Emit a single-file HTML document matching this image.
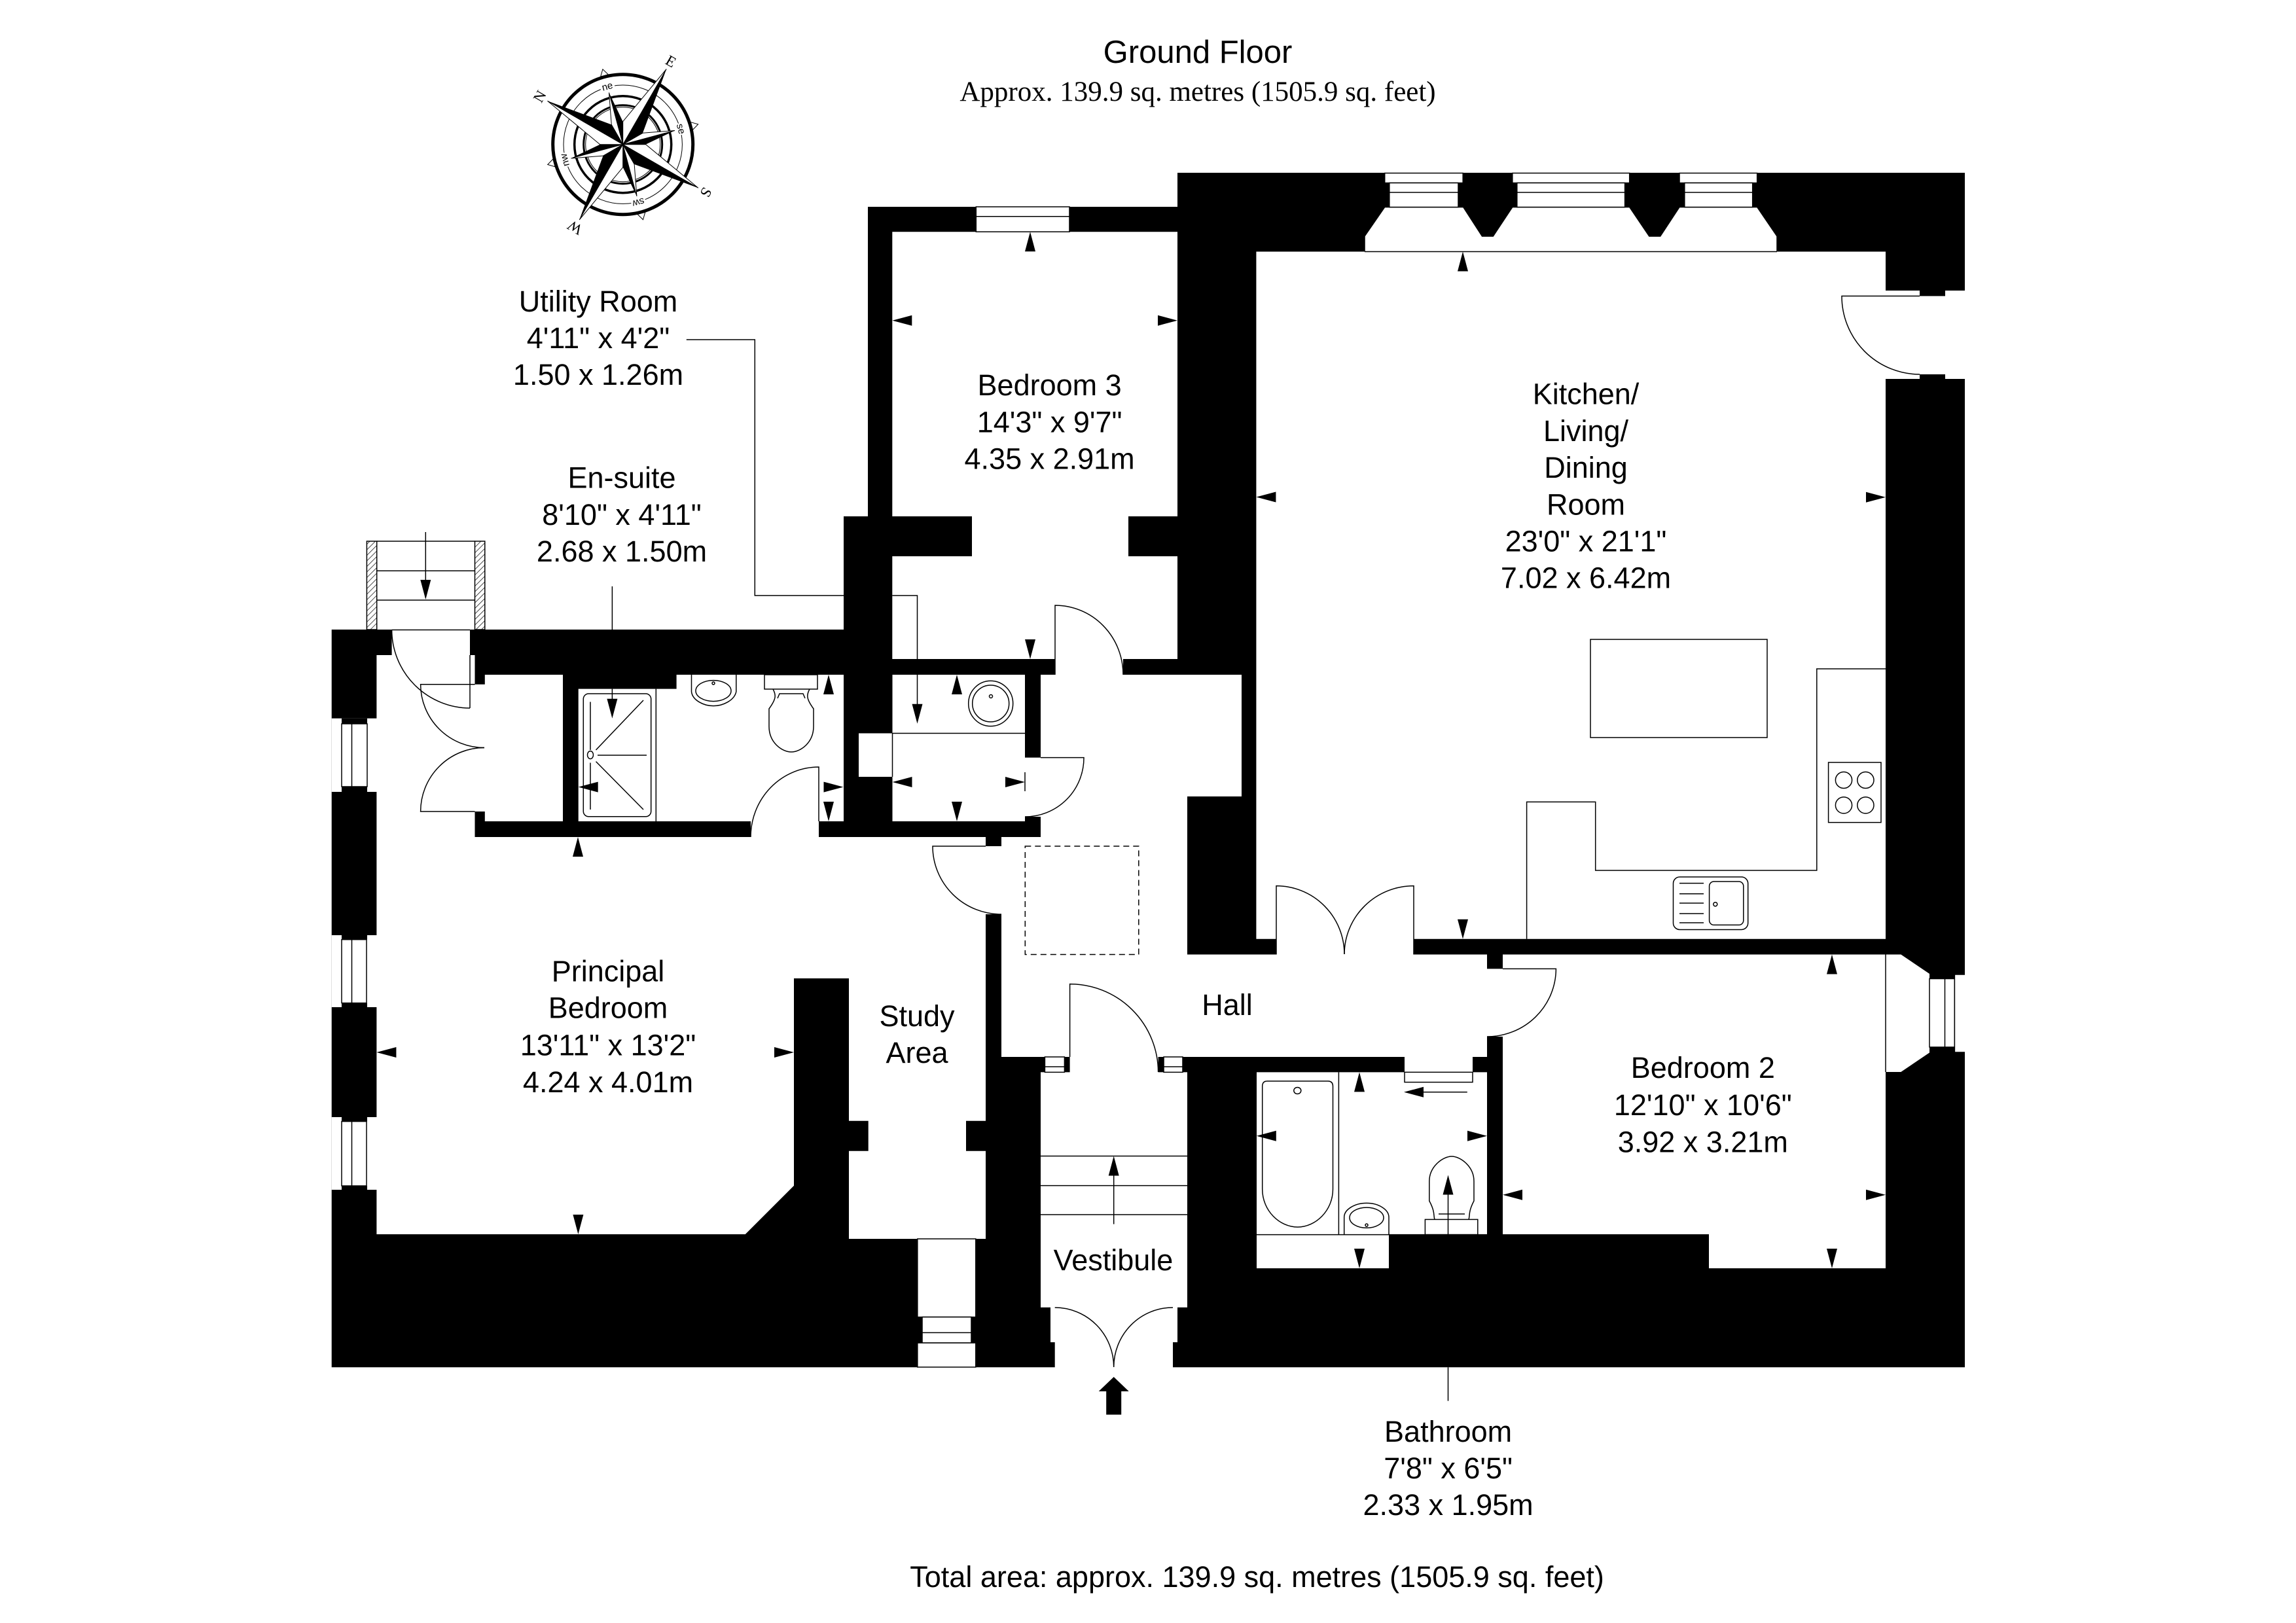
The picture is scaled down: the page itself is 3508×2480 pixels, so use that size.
<!DOCTYPE html>
<html><head><meta charset="utf-8"><title>Ground Floor</title>
<style>
html,body{margin:0;padding:0;background:#fff}
svg{display:block}
text{font-family:"Liberation Sans",sans-serif;font-size:45px;fill:#000;text-anchor:middle}
.s{font-family:"Liberation Serif",serif}
.l{fill:none;stroke:#000;stroke-width:1.5}
.w{fill:#fff}
.ws{fill:#fff;stroke:#000;stroke-width:1.5}
</style></head><body>
<svg xmlns="http://www.w3.org/2000/svg" width="3508" height="2480" viewBox="0 0 3508 2480">
<defs>
<polygon id="a" points="0,0 -8,30 8,30" fill="#000"/>
<pattern id="h" width="6" height="6" patternUnits="userSpaceOnUse" patternTransform="rotate(45)"><rect width="6" height="6" fill="#fff"/><line x1="0" y1="0" x2="0" y2="6" stroke="#000" stroke-width="1.4"/></pattern>
<g id="lp"><polygon points="0,-133 -17.5,-30.3 0,0" fill="#fff" stroke="#000" stroke-width="1"/><polygon points="0,-133 17.5,-30.3 0,0" fill="#000"/></g>
<g id="sp"><polygon points="0,-82 -9,-33.8 0,0" fill="#fff" stroke="#000" stroke-width="1"/><polygon points="0,-82 9,-33.8 0,0" fill="#000"/></g>
</defs>
<rect width="3508" height="2480" fill="#fff"/>

<!-- compass -->
<g transform="translate(951.7 220.7)">
<g fill="none" stroke="#000">
<circle r="107" stroke-width="5"/><circle r="90.7" stroke-width="1"/><circle r="74" stroke-width="3.5"/><circle r="60" stroke-width="3"/><circle r="57" stroke-width="1"/>
</g>
<g fill="#fff" stroke="#000" stroke-width="1">
<polygon transform="rotate(-15)" points="-6,-109 0,-119 6,-109"/><polygon transform="rotate(75)" points="-6,-109 0,-119 6,-109"/><polygon transform="rotate(165)" points="-6,-109 0,-119 6,-109"/><polygon transform="rotate(255)" points="-6,-109 0,-119 6,-109"/>
</g>
<use href="#sp" transform="rotate(-15)"/><use href="#sp" transform="rotate(75)"/><use href="#sp" transform="rotate(165)"/><use href="#sp" transform="rotate(255)"/>
<use href="#lp" transform="rotate(30)"/><use href="#lp" transform="rotate(120)"/><use href="#lp" transform="rotate(210)"/><use href="#lp" transform="rotate(300)"/>
<g class="lab">
<text class="s" style="font-size:23px" transform="rotate(-60)" y="-139">N</text>
<text class="s" style="font-size:23px" transform="rotate(30)" y="-139">E</text>
<text class="s" style="font-size:23px" transform="rotate(120)" y="-139">S</text>
<text class="s" style="font-size:23px" transform="rotate(210)" y="-139">W</text>
<rect transform="rotate(-15)" x="-11" y="-99" width="22" height="14" fill="#fff"/><text style="font-size:15px" transform="rotate(-15)" y="-87">ne</text>
<rect transform="rotate(75)" x="-9" y="-99" width="18" height="14" fill="#fff"/><text style="font-size:15px" transform="rotate(75)" y="-87">se</text>
<rect transform="rotate(165)" x="-11" y="-99" width="22" height="14" fill="#fff"/><text style="font-size:15px" transform="rotate(165)" y="-87">sw</text>
<rect transform="rotate(255)" x="-11" y="-99" width="22" height="14" fill="#fff"/><text style="font-size:15px" transform="rotate(255)" y="-87">nw</text>
</g>
</g>

<!-- silhouette -->
<polygon fill="#000" points="506.7,962 1289,962 1289,789 1326,789 1326,316 1799,316 1799,264 3002,264 3002,2089.3 506.7,2089.3"/>

<!-- main connected interior -->
<polygon class="w" points="1363.3,354.2 1799,354.2 1799,789 1724,789 1724,850 1799,850 1799,1007 1716,1007 1716,1031 1897,1031 1897,1217 1814,1217 1814,1458.5 1950,1458.5 1950,1434.8 2160,1434.8 2160,1458.5 2272,1458.5 2272,1480.4 2296,1480.4 2296,1584 2272,1584 2272,1615 1769.6,1615 1769.6,1638.4 1814,1638.4 1814,1997.8 1590,1997.8 1590,1638.4 1634.6,1638.4 1634.6,1615 1530,1615 1530,1397 1506,1397 1506,1712.8 1476,1712.8 1476,1758.7 1506,1758.7 1506,1893 1297,1893 1297,1758.7 1326.7,1758.7 1326.7,1712.8 1297,1712.8 1297,1495 1213,1495 1213,1811.7 1138.7,1886 575.4,1886 575.4,1001 598.6,1001 598.6,962 718,962 718,1001 725.5,1001 725.5,1045.7 740.8,1045.7 740.8,1031 860,1031 860,1255 740.8,1255 740.8,1240 725.5,1240 725.5,1279 1147,1279 1147,1255 883.7,1255 883.7,1052.6 1033.6,1052.6 1033.6,1031 1289,1031 1289,1255 1251,1255 1251,1279 1506,1279 1506,1293 1530,1293 1530,1279 1590,1279 1590,1248 1566,1248 1566,1255 1363.5,1255 1363.5,1187 1312,1187 1312,1120.5 1363.5,1120.5 1363.5,1031 1566,1031 1566,1157.6 1590,1157.6 1590,1031 1612,1031 1612,1007 1363.3,1007 1363.3,850 1485,850 1485,789 1363.3,789"/>
<rect class="w" x="1611.7" y="1994" width="180.3" height="96"/>
<rect class="w" x="1605" y="1994" width="7" height="57"/><rect class="w" x="1792" y="1994" width="7" height="57"/>
<line class="l" x1="718" y1="1001" x2="718" y2="1082"/>

<!-- kitchen -->
<polygon class="w" points="1919.4,384.5 2881,384.5 2881,444 3002,444 3002,579 2881,579 2881,1434.8 1919.4,1434.8"/>
<rect class="w" x="1950" y="1430" width="210" height="10"/>
<rect x="2933" y="444" width="39" height="8.4"/><rect x="2933" y="572" width="39" height="7"/>
<polygon class="w" points="2085,384.5 2085,361 2115.7,316.5 2235.7,316.5 2264.5,361 2281.3,361 2310.8,316.5 2489.7,316.5 2519.8,361 2536.7,361 2566,316.5 2684.7,316.5 2715,361 2715,384.5"/>
<line class="l" x1="2085" y1="384.5" x2="2715" y2="384.5"/>
<g class="l"><path d="M2085 384.5V361L2115.7 316.5H2235.7L2264.5 361H2281.3L2310.8 316.5H2489.7L2519.8 361H2536.7L2566 316.5H2684.7L2715 361V384.5"/></g>
<rect class="ws" x="2115.7" y="264.5" width="119.5" height="15"/><rect class="ws" x="2122.8" y="279.5" width="105.2" height="37"/><line class="l" x1="2122.8" y1="294" x2="2228" y2="294"/>
<rect class="ws" x="2310.8" y="264.5" width="178.9" height="15"/><rect class="ws" x="2317.8" y="279.5" width="164.8" height="37"/><line class="l" x1="2317.8" y1="294" x2="2482.6" y2="294"/>
<rect class="ws" x="2566" y="264.5" width="118.7" height="15"/><rect class="ws" x="2573.8" y="279.5" width="103.9" height="37"/><line class="l" x1="2573.8" y1="294" x2="2677.7" y2="294"/>
<rect class="ws" x="2430" y="977" width="270" height="150"/>
<path class="l" d="M2881 1022H2775.8V1330H2437.7V1225.4H2332.6V1434.8"/>
<rect class="ws" x="2793.6" y="1165" width="80.4" height="91.7"/>
<g class="l"><ellipse cx="2817" cy="1192" rx="12.6" ry="12.5"/><ellipse cx="2850.4" cy="1192" rx="12.6" ry="12.5"/><ellipse cx="2817" cy="1230.4" rx="12.6" ry="12.5"/><ellipse cx="2850.4" cy="1230.4" rx="12.6" ry="12.5"/></g>
<rect class="l" x="2556.5" y="1340" width="114.2" height="80.5" rx="10"/>
<rect class="l" x="2611.6" y="1347" width="52.2" height="66.4" rx="7"/>
<circle class="l" cx="2620.8" cy="1381.7" r="3"/>
<path class="l" d="M2566 1349.6H2603M2566 1365.7H2603M2566 1380H2603M2566 1396H2603M2566 1410H2603"/>

<!-- bedroom 2 -->
<polygon class="w" points="2296,1458.5 2881,1458.5 2881,1938 2611,1938 2611,1886 2296,1886"/>
<rect class="w" x="2290" y="1481.2" width="12" height="102"/>
<polygon class="w" points="2881,1458.5 2904.4,1458.5 2948,1488 2948,1608.5 2904.4,1638 2881,1638"/>
<line class="l" x1="2881" y1="1458.5" x2="2881" y2="1638"/>
<rect class="ws" x="2948" y="1495.5" width="38.4" height="104.5"/><line class="l" x1="2971.5" y1="1495.5" x2="2971.5" y2="1600"/>
<rect class="w" x="2986.4" y="1489" width="15.6" height="119"/>
<path class="l" d="M2986.4 1489H3002M2986.4 1608H3002M2986.4 1489V1608"/>

<!-- bathroom -->
<polygon class="w" points="1920,1638.4 2146,1638.4 2146,1615 2250,1615 2250,1638.4 2272,1638.4 2272,1886.6 2122,1886.6 2122,1938 1920,1938"/>
<rect class="w" x="2146" y="1610" width="104" height="10"/>
<path class="l" d="M2146 1638.4H2250V1653.6H2146ZM1920 1886.6H2272M2045.4 1638.4V1886.6"/>
<path class="l" d="M1936 1652H2029Q2036.5 1652 2036.5 1660V1817C2036.5 1850 2010 1875 1982.6 1875C1955 1875 1928.7 1850 1928.7 1817V1660Q1928.7 1652 1936 1652Z"/>
<ellipse class="l" cx="1982.3" cy="1666.5" rx="5.5" ry="5"/>
<path class="l" d="M2053.7 1886.6V1860C2053.7 1848 2070 1838.4 2088 1838.4C2106 1838.4 2122 1848 2122 1860V1886.6"/>
<ellipse class="l" cx="2088" cy="1860.7" rx="26" ry="15.6"/>
<circle class="l" cx="2088" cy="1872" r="2"/>
<rect class="l" x="2177.4" y="1863.4" width="80.4" height="23.2"/>
<path class="l" d="M2192 1863.4C2190 1858 2193 1852 2183.8 1835V1805C2183.8 1782 2205 1767 2218 1767C2231 1767 2252 1782 2252 1805V1835C2243 1852 2246 1858 2244 1863.4M2198 1855H2238"/>

<!-- en-suite fittings -->
<line class="l" x1="1002.3" y1="1052.6" x2="1002.3" y2="1255"/>
<rect class="l" x="891.3" y="1060" width="103.4" height="187.8" rx="8"/>
<path class="l" d="M902 1072.5V1146M902 1165.5V1237M910.5 1146L983 1070M910.5 1163.6L983 1237M913 1154H988"/>
<ellipse class="l" cx="902" cy="1153.6" rx="4.5" ry="6"/>
<path class="l" d="M1056.5 1031V1057C1058 1070 1075 1078.6 1090 1078.6C1105 1078.6 1122 1070 1124.8 1057V1031"/>
<ellipse class="l" cx="1090" cy="1055.6" rx="27" ry="16"/>
<circle class="l" cx="1090" cy="1044" r="2"/>
<rect class="l" x="1168" y="1031" width="81" height="22"/>
<path class="l" d="M1181 1053C1186 1062 1186 1068 1175 1083V1110C1175 1135 1195 1149 1209 1149C1223 1149 1243 1135 1243 1110V1083C1232 1068 1232 1062 1237 1053M1188 1067L1191 1060H1227L1230 1067"/>

<!-- utility fittings -->
<path class="l" d="M1363.5 1120.5H1566M1363.5 1120.5V1187"/>
<ellipse class="l" cx="1513.7" cy="1075" rx="34" ry="34.6"/>
<ellipse class="l" cx="1513.7" cy="1075" rx="28" ry="28"/>
<circle class="l" cx="1514" cy="1064" r="2.5"/>
<line class="l" x1="1566" y1="1180" x2="1566" y2="1209"/>

<!-- window: bedroom 3 -->
<rect class="ws" x="1491.3" y="316" width="142.7" height="38.2"/><line class="l" x1="1491.3" y1="330.7" x2="1634" y2="330.7"/>

<!-- windows: west wall -->
<g>
<rect class="w" x="506.7" y="1097.7" width="69" height="112.3"/><rect x="522" y="1097.7" width="39" height="8.3"/><rect x="522" y="1202" width="39" height="8"/><rect class="ws" x="522" y="1106" width="39" height="96"/><line class="l" x1="537.5" y1="1106" x2="537.5" y2="1202"/>
<rect class="w" x="506.7" y="1429" width="69" height="110"/><rect x="522" y="1429" width="39" height="6.7"/><rect x="522" y="1532.6" width="39" height="6.4"/><rect class="ws" x="522" y="1435.7" width="38" height="96.9"/><line class="l" x1="537.5" y1="1435.7" x2="537.5" y2="1532.6"/>
<rect class="w" x="506.7" y="1707" width="69" height="111"/><rect x="522" y="1707" width="39" height="6.6"/><rect x="522" y="1812" width="39" height="6"/><rect class="ws" x="522" y="1713.6" width="38" height="98.4"/><line class="l" x1="537.5" y1="1713.6" x2="537.5" y2="1812"/>
</g>

<!-- study south window -->
<rect class="ws" x="1401.8" y="1893" width="89" height="119.5"/>
<rect class="ws" x="1409" y="2012.5" width="75" height="39.5"/><line class="l" x1="1409" y1="2036.4" x2="1484" y2="2036.4"/>
<rect class="ws" x="1401.8" y="2052" width="89" height="37"/>

<!-- vestibule transoms -->
<rect class="ws" x="1596.4" y="1615" width="30" height="23.4"/><line class="l" x1="1596.4" y1="1630" x2="1626.4" y2="1630"/>
<rect class="ws" x="1778" y="1615" width="29" height="23.4"/><line class="l" x1="1778" y1="1630" x2="1807" y2="1630"/>
<path class="l" d="M1590 1766.5H1814M1590 1811.6H1814M1590 1856H1814"/>

<!-- external stair -->
<rect fill="url(#h)" stroke="#000" stroke-width="1.5" x="560.4" y="827" width="15.3" height="135"/>
<rect fill="url(#h)" stroke="#000" stroke-width="1.5" x="725.5" y="827" width="15.3" height="135"/>
<path class="l" d="M575.7 827H725.5M575.7 872.3H725.5M575.7 917H725.5M598.6 962.5H718"/>
<line class="l" x1="650.3" y1="813" x2="650.3" y2="890"/>

<!-- dashed -->
<rect x="1566.3" y="1293" width="173.5" height="165.5" fill="none" stroke="#000" stroke-width="1.5" stroke-dasharray="9 6"/>

<!-- doors -->
<g class="l">
<path d="M718 1082A120 120 0 0 1 598.6 962"/>
<path d="M725.5 1045.7H642.6A97.5 97 0 0 0 740 1142.5"/>
<path d="M725.5 1240H642.6A97.5 97.5 0 0 1 740 1142.5"/>
<path d="M1251 1255V1172A104 107 0 0 0 1147 1279"/>
<path d="M1612 1031V925A104 106 0 0 1 1716 1031"/>
<path d="M1590 1157.6H1656A90 90 0 0 1 1566 1248"/>
<path d="M1506 1293H1425A105 104 0 0 0 1530 1397"/>
<path d="M1950 1458.5V1353.6A104 104.6 0 0 1 2054 1458"/>
<path d="M2160 1458.5V1353.6A106 104.6 0 0 0 2054 1458"/>
<path d="M1634.6 1615V1503.6A135 135 0 0 1 1769.6 1638"/>
<path d="M2296 1480.4H2377.4A105 104 0 0 1 2272 1584"/>
<path d="M2933 452.4H2814A119.5 119.5 0 0 0 2933 572"/>
<path d="M1611.7 1998A90 91 0 0 1 1701.7 2089"/>
<path d="M1792 1998A90 91 0 0 0 1701.7 2089"/>
</g>

<!-- leaders -->
<path class="l" d="M1048.8 519H1153.3V910H1289M1363.3 910H1401.5V1007M1401.5 1031V1080"/>
<path class="l" d="M935.4 896V962M935.4 1052.6V1070"/>
<path class="l" d="M1701.7 1870.5V1790M2212.5 1886.6V1820M2212.5 2089.3V2140.6M2241.8 1668.8H2170"/>

<!-- arrows -->
<g>
<use href="#a" transform="translate(1574 354.2)"/><use href="#a" transform="translate(2235 384.5)"/><use href="#a" transform="translate(1462 1031)"/><use href="#a" transform="translate(1266 1031)"/><use href="#a" transform="translate(883 1279)"/><use href="#a" transform="translate(2799 1458.5)"/><use href="#a" transform="translate(2077 1638.4)"/>
<use href="#a" transform="translate(1574 1007) rotate(180)"/><use href="#a" transform="translate(1266 1255) rotate(180)"/><use href="#a" transform="translate(1462 1255) rotate(180)"/><use href="#a" transform="translate(2235 1434.8) rotate(180)"/><use href="#a" transform="translate(2799 1938) rotate(180)"/><use href="#a" transform="translate(2077 1938) rotate(180)"/><use href="#a" transform="translate(883.4 1886) rotate(180)"/>
<use href="#a" transform="translate(1363.3 489.7) rotate(-90)"/><use href="#a" transform="translate(1919.4 759.5) rotate(-90)"/><use href="#a" transform="translate(883.7 1202.6) rotate(-90)"/><use href="#a" transform="translate(1363.5 1195) rotate(-90)"/><use href="#a" transform="translate(575.4 1608) rotate(-90)"/><use href="#a" transform="translate(1919.8 1735.7) rotate(-90)"/><use href="#a" transform="translate(2296 1825.8) rotate(-90)"/>
<use href="#a" transform="translate(1799 489.7) rotate(90)"/><use href="#a" transform="translate(2881 759.8) rotate(90)"/><use href="#a" transform="translate(1288.5 1202.6) rotate(90)"/><use href="#a" transform="translate(1566 1195) rotate(90)"/><use href="#a" transform="translate(1213 1608) rotate(90)"/><use href="#a" transform="translate(2272 1735.7) rotate(90)"/><use href="#a" transform="translate(2881 1825.8) rotate(90)"/>
<use href="#a" transform="translate(935.4 1097.7) rotate(180)"/><use href="#a" transform="translate(1401.5 1105.7) rotate(180)"/><use href="#a" transform="translate(650.3 916) rotate(180)"/><use href="#a" transform="translate(1701.7 1766.5)"/><use href="#a" transform="translate(2212.5 1795.5)"/><use href="#a" transform="translate(2145 1668.8) rotate(-90)"/>
</g>
<polygon fill="#000" points="1701.7,2104 1724.7,2126 1713.2,2126 1713.2,2161.6 1690.2,2161.6 1690.2,2126 1678.7,2126"/>

<!-- labels -->
<text x="1830" y="96" style="font-size:49px">Ground Floor</text>
<text class="s" x="1830" y="154" style="font-size:43px">Approx. 139.9 sq. metres (1505.9 sq. feet)</text>
<text x="914" y="476">Utility Room</text><text x="914" y="532">4'11" x 4'2"</text><text x="914" y="588">1.50 x 1.26m</text>
<text x="950" y="745.5">En-suite</text><text x="950" y="802">8'10" x 4'11"</text><text x="950" y="858">2.68 x 1.50m</text>
<text x="1603.6" y="604">Bedroom 3</text><text x="1603.6" y="660.5">14'3" x 9'7"</text><text x="1603.6" y="716.5">4.35 x 2.91m</text>
<text x="2423" y="617.5">Kitchen/</text><text x="2423" y="674">Living/</text><text x="2423" y="730">Dining</text><text x="2423" y="786.5">Room</text><text x="2423" y="842.6">23'0" x 21'1"</text><text x="2423" y="898.7">7.02 x 6.42m</text>
<text x="929" y="1499.5">Principal</text><text x="929" y="1555.6">Bedroom</text><text x="929" y="1612.7">13'11" x 13'2"</text><text x="929" y="1669">4.24 x 4.01m</text>
<text x="1401" y="1568">Study</text><text x="1401" y="1624">Area</text>
<text x="1875" y="1551">Hall</text>
<text x="1701" y="1941">Vestibule</text>
<text x="2601.8" y="1647">Bedroom 2</text><text x="2601.8" y="1704">12'10" x 10'6"</text><text x="2601.8" y="1760.5">3.92 x 3.21m</text>
<text x="2212.6" y="2203">Bathroom</text><text x="2212.6" y="2259">7'8" x 6'5"</text><text x="2212.6" y="2315">2.33 x 1.95m</text>
<text x="1920.6" y="2425">Total area: approx. 139.9 sq. metres (1505.9 sq. feet)</text>
</svg>
</body></html>
